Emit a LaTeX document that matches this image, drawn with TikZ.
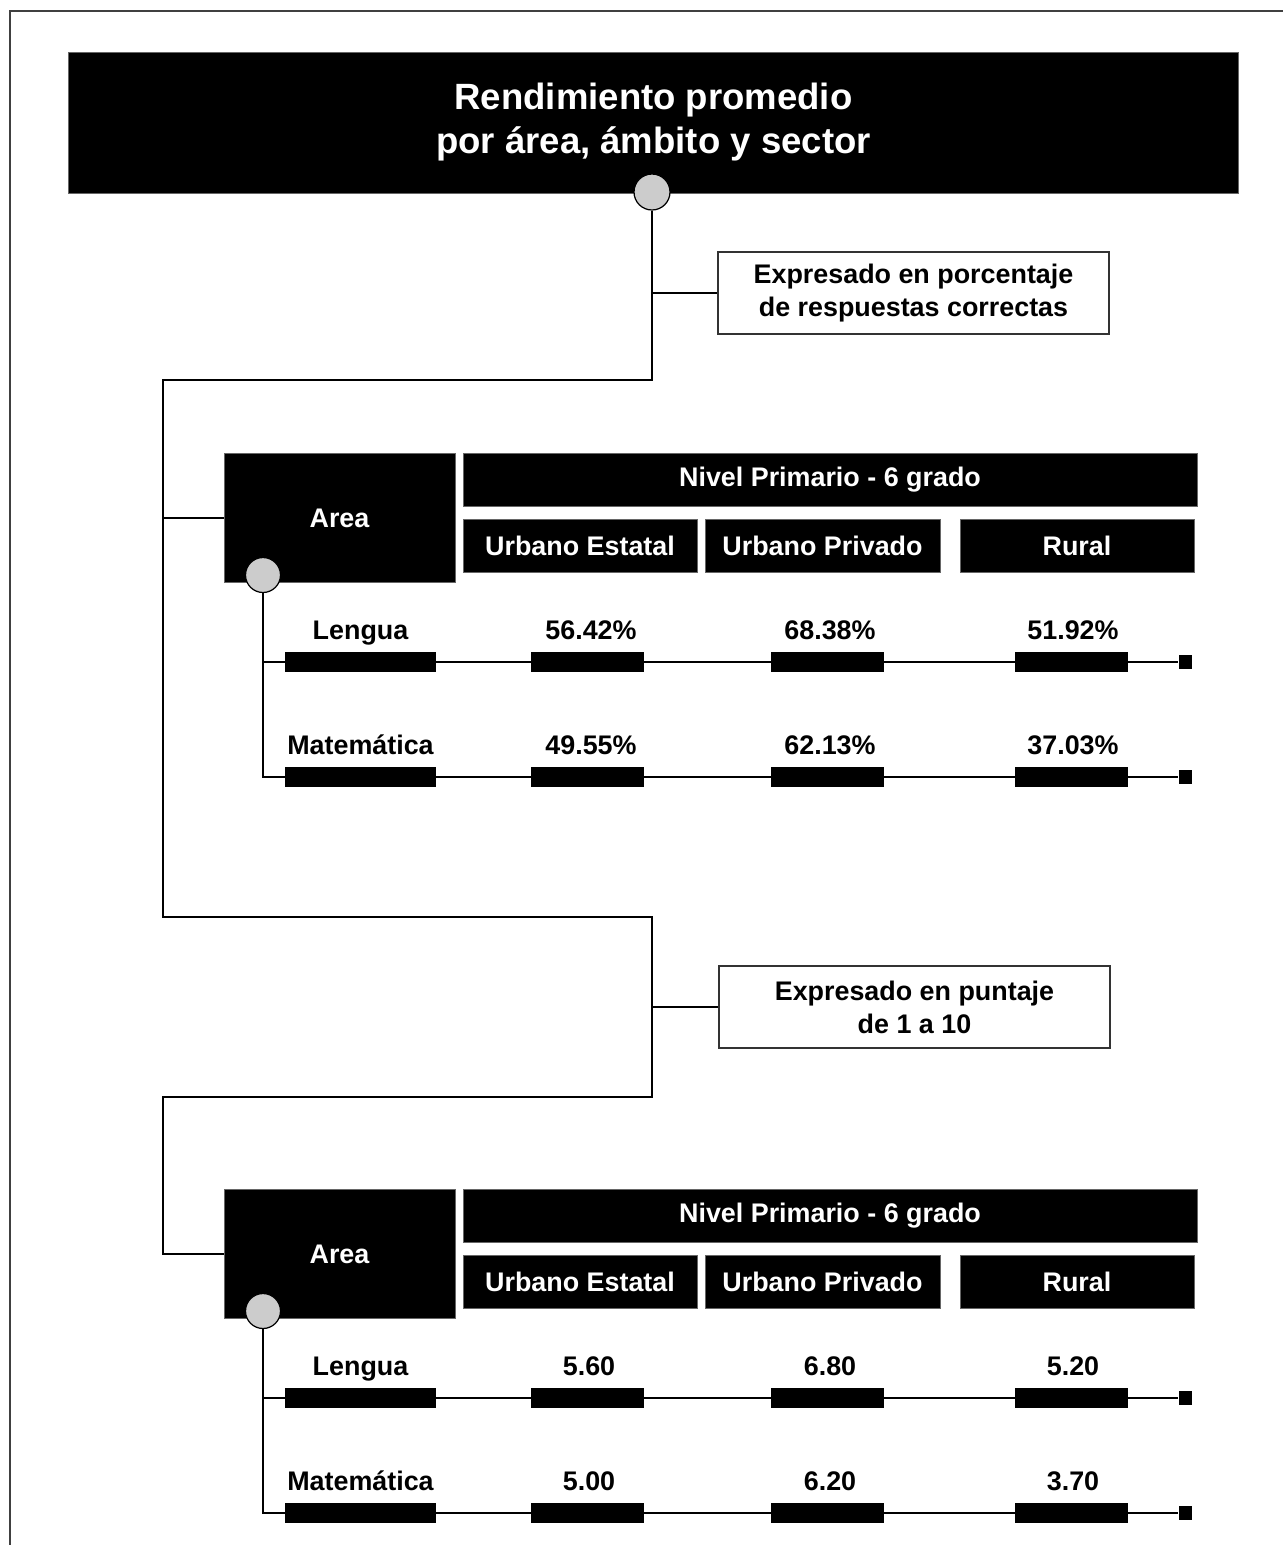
\documentclass[tikz,border=0pt]{standalone}
\usepackage{fontspec}
\setmainfont{Liberation Sans}
\newcommand{\lblfont}{\bfseries\fontsize{15.3}{18.7}\selectfont}
\newcommand{\ttlfont}{\bfseries\fontsize{20.8}{25}\selectfont}

\tikzset{
  headbox/.style={fill=black, draw=black!60, line width=0.5pt, text=white, inner sep=0pt, font=\lblfont},
  notebox/.style={draw=black!80, fill=white, line width=0.8pt, align=center, inner sep=0pt,
    minimum width=7.82cm, minimum height=1.64cm, font=\lblfont},
  knot/.style={circle, draw=black, line width=0.7pt, fill=black!20, minimum size=0.72cm, inner sep=0pt},
  namebar/.style={fill=black, inner sep=0pt, minimum width=3.02cm, minimum height=0.4cm},
  valbar/.style={fill=black, inner sep=0pt, minimum width=2.26cm, minimum height=0.4cm},
  endcap/.style={fill=black, inner sep=0pt, minimum size=0.27cm},
  lbl/.style={anchor=base, inner sep=0pt, font=\lblfont},
  link/.style={draw=black, line width=0.8pt},
}

\begin{document}
\begin{tikzpicture}[x=0.02cm, y=-0.02cm]
\useasboundingbox (0,0) rectangle (1283,1545);
% frame
\draw[black!75, line width=1pt] (10,1545) -- (10,11) -- (1283,11);

% title
\node[headbox, minimum width=23.42cm, minimum height=2.82cm, align=center, font=\ttlfont] (top) at (653.5,122.5) {Rendimiento promedio\\por área, ámbito y sector};
\node[knot] (topknot) at (652,192) {};

% notes
\node[notebox] (note1) at (913.5,293) {Expresado en porcentaje\\de respuestas correctas};
\node[notebox] (note2) at (914.5,1007) {Expresado en puntaje\\de 1 a 10};

% first table: porcentaje
\node[headbox, minimum width=4.62cm, minimum height=2.58cm] (area1) at (339.5,518) {Area};
\node[headbox, minimum width=14.68cm, minimum height=1.06cm] (nivel1) at (830,479.5) {Nivel Primario - 6 grado};
\node[headbox, minimum width=4.68cm, minimum height=1.06cm] (urbest1) at (580,545.5) {Urbano Estatal};
\node[headbox, minimum width=4.7cm, minimum height=1.06cm] (urbpriv1) at (822.5,545.5) {Urbano Privado};
\node[headbox, minimum width=4.68cm, minimum height=1.06cm] (rural1) at (1077,545.5) {Rural};
\node[knot, minimum size=0.7cm] (areaknot1) at (263,575) {};

\node[namebar] (lbar1) at (360.5,662) {};
\node[valbar] (lue1) at (587.5,662) {};
\node[valbar] (lup1) at (827.5,662) {};
\node[valbar] (lru1) at (1071.5,662) {};
\node[endcap] (lend1) at (1185.5,662) {};
\node[lbl] (ltxt1) at (360.5,639) {Lengua};
\node[lbl] (lval11) at (591,639) {56.42\%};
\node[lbl] (lval12) at (830,639) {68.38\%};
\node[lbl] (lval13) at (1073,639) {51.92\%};

\node[namebar] (mbar1) at (360.5,777) {};
\node[valbar] (mue1) at (587.5,777) {};
\node[valbar] (mup1) at (827.5,777) {};
\node[valbar] (mru1) at (1071.5,777) {};
\node[endcap] (mend1) at (1185.5,777) {};
\node[lbl] (mtxt1) at (360.5,754) {Matemática};
\node[lbl] (mval11) at (591,754) {49.55\%};
\node[lbl] (mval12) at (830,754) {62.13\%};
\node[lbl] (mval13) at (1073,754) {37.03\%};

% second table: puntaje
\node[headbox, minimum width=4.62cm, minimum height=2.58cm] (area2) at (339.5,1254) {Area};
\node[headbox, minimum width=14.68cm, minimum height=1.06cm] (nivel2) at (830,1215.5) {Nivel Primario - 6 grado};
\node[headbox, minimum width=4.68cm, minimum height=1.06cm] (urbest2) at (580,1281.5) {Urbano Estatal};
\node[headbox, minimum width=4.7cm, minimum height=1.06cm] (urbpriv2) at (822.5,1281.5) {Urbano Privado};
\node[headbox, minimum width=4.68cm, minimum height=1.06cm] (rural2) at (1077,1281.5) {Rural};
\node[knot, minimum size=0.7cm] (areaknot2) at (263,1311) {};

\node[namebar] (lbar2) at (360.5,1398) {};
\node[valbar] (lue2) at (587.5,1398) {};
\node[valbar] (lup2) at (827.5,1398) {};
\node[valbar] (lru2) at (1071.5,1398) {};
\node[endcap] (lend2) at (1185.5,1398) {};
\node[lbl] (ltxt2) at (360.5,1375) {Lengua};
\node[lbl] (lval21) at (589,1375) {5.60};
\node[lbl] (lval22) at (830,1375) {6.80};
\node[lbl] (lval23) at (1073,1375) {5.20};

\node[namebar] (mbar2) at (360.5,1513) {};
\node[valbar] (mue2) at (587.5,1513) {};
\node[valbar] (mup2) at (827.5,1513) {};
\node[valbar] (mru2) at (1071.5,1513) {};
\node[endcap] (mend2) at (1185.5,1513) {};
\node[lbl] (mtxt2) at (360.5,1490) {Matemática};
\node[lbl] (mval21) at (589,1490) {5.00};
\node[lbl] (mval22) at (830,1490) {6.20};
\node[lbl] (mval23) at (1073,1490) {3.70};

% trunk
\coordinate (c1) at (163,380);
\coordinate (c2) at (163,917);
\coordinate (c3) at (652,917);
\coordinate (c4) at (652,1097);
\coordinate (c5) at (163,1097);
\draw[link] (topknot) |- (c1) -- (c2) -- (c3) -- (c4) -- (c5) |- (area2);
\draw[link] (c1 |- area1) -- (area1);
\draw[link] (topknot |- note1) -- (note1);
\draw[link] (c3 |- note2) -- (note2);

% rows
\draw[link] (areaknot1 |- lend1) -- (lend1);
\draw[link] (areaknot1) |- (mend1);
\draw[link] (areaknot2 |- lend2) -- (lend2);
\draw[link] (areaknot2) |- (mend2);
\end{tikzpicture}
\end{document}
